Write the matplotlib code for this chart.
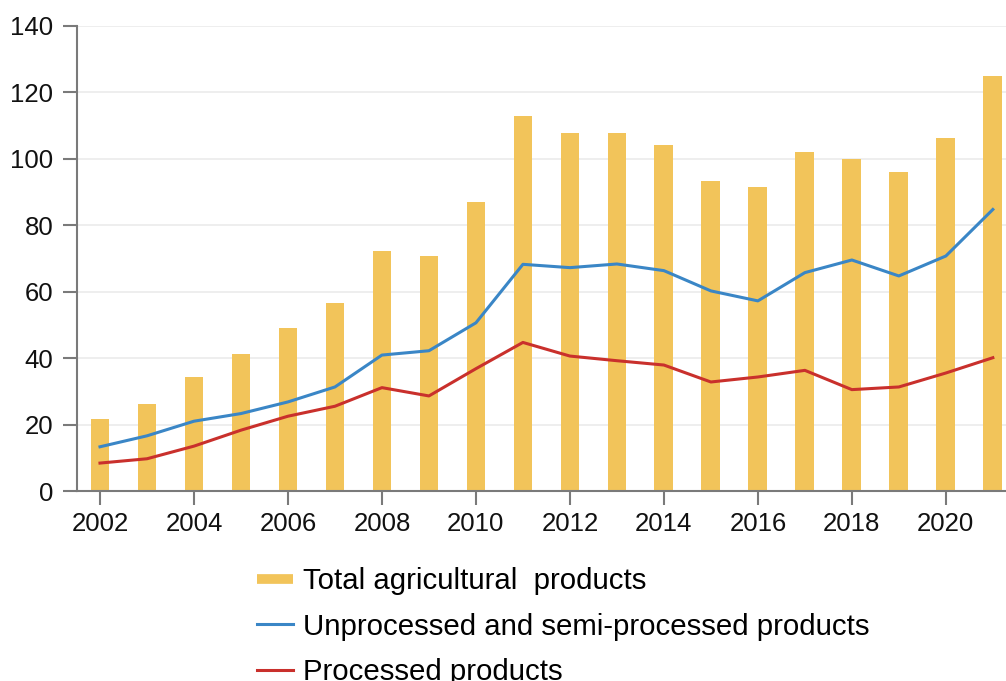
import numpy as np
import matplotlib
matplotlib.use("Agg")
from matplotlib import pyplot as plt
from matplotlib.lines import Line2D

# values
years = list(range(2002, 2022))
total = [21.8, 26.1, 34.3, 41.1, 48.9, 56.7, 72.2, 70.7, 86.9, 112.9,
         107.8, 107.6, 104.2, 93.2, 91.6, 102.0, 99.8, 96.0, 106.2, 124.9]
unprocessed = [13.3, 16.6, 21.0, 23.3, 26.8, 31.3, 40.9, 42.2, 50.6, 68.2,
               67.2, 68.3, 66.3, 60.2, 57.2, 65.7, 69.5, 64.7, 70.7, 84.7]
processed = [8.4, 9.7, 13.5, 18.3, 22.5, 25.5, 31.1, 28.6, 36.8, 44.7,
             40.6, 39.2, 37.9, 32.8, 34.3, 36.3, 30.5, 31.3, 35.5, 40.1]
xticks = list(range(2002, 2021, 2))
yticks = list(range(0, 141, 20))

c_bar = '#F2C45A'
c_blue = '#3A86C6'
c_red = '#C9302C'
c_axis = '#7A7A7A'

plt.rcParams['font.family'] = ['Liberation Sans', 'DejaVu Sans']

fig = plt.figure(figsize=(10.06, 6.81), dpi=100)
ax = fig.add_axes([0.0765, 0.279, 0.9235, 0.6833])

ax.bar(years, total, width=0.4, color=c_bar, zorder=2)
ax.plot(years, unprocessed, color=c_blue, lw=2.2, zorder=3)
ax.plot(years, processed, color=c_red, lw=2.2, zorder=3)

ax.set_xlim(2001.51, 2021.28)
ax.set_ylim(0, 140)
ax.set_xticks(xticks)
ax.set_yticks(yticks)
ax.yaxis.grid(True, color='#EBEBEB', lw=1.2, zorder=0)
ax.set_axisbelow(True)

for s in ['top', 'right']:
    ax.spines[s].set_visible(False)
for s in ['left', 'bottom']:
    ax.spines[s].set_color(c_axis)
    ax.spines[s].set_linewidth(1.5)

ax.tick_params(axis='both', colors=c_axis, width=1.5, length=10,
               labelsize=18.5, labelcolor='#111111')
ax.tick_params(axis='y', pad=7)
ax.tick_params(axis='x', pad=5)

handles = [
    Line2D([0], [0], color=c_bar, lw=7, solid_capstyle='butt'),
    Line2D([0], [0], color=c_blue, lw=2.2),
    Line2D([0], [0], color=c_red, lw=2.2),
]
labels = ['Total agricultural  products',
          'Unprocessed and semi-processed products',
          'Processed products']
fig.legend(handles, labels, loc='upper left',
           bbox_to_anchor=(257 / 1006, 1 - 567 / 681),
           frameon=False, fontsize=21.2, borderpad=0, borderaxespad=0,
           handlelength=1.22, handletextpad=0.35, labelspacing=0.6)

plt.savefig('out.png', dpi=100)
